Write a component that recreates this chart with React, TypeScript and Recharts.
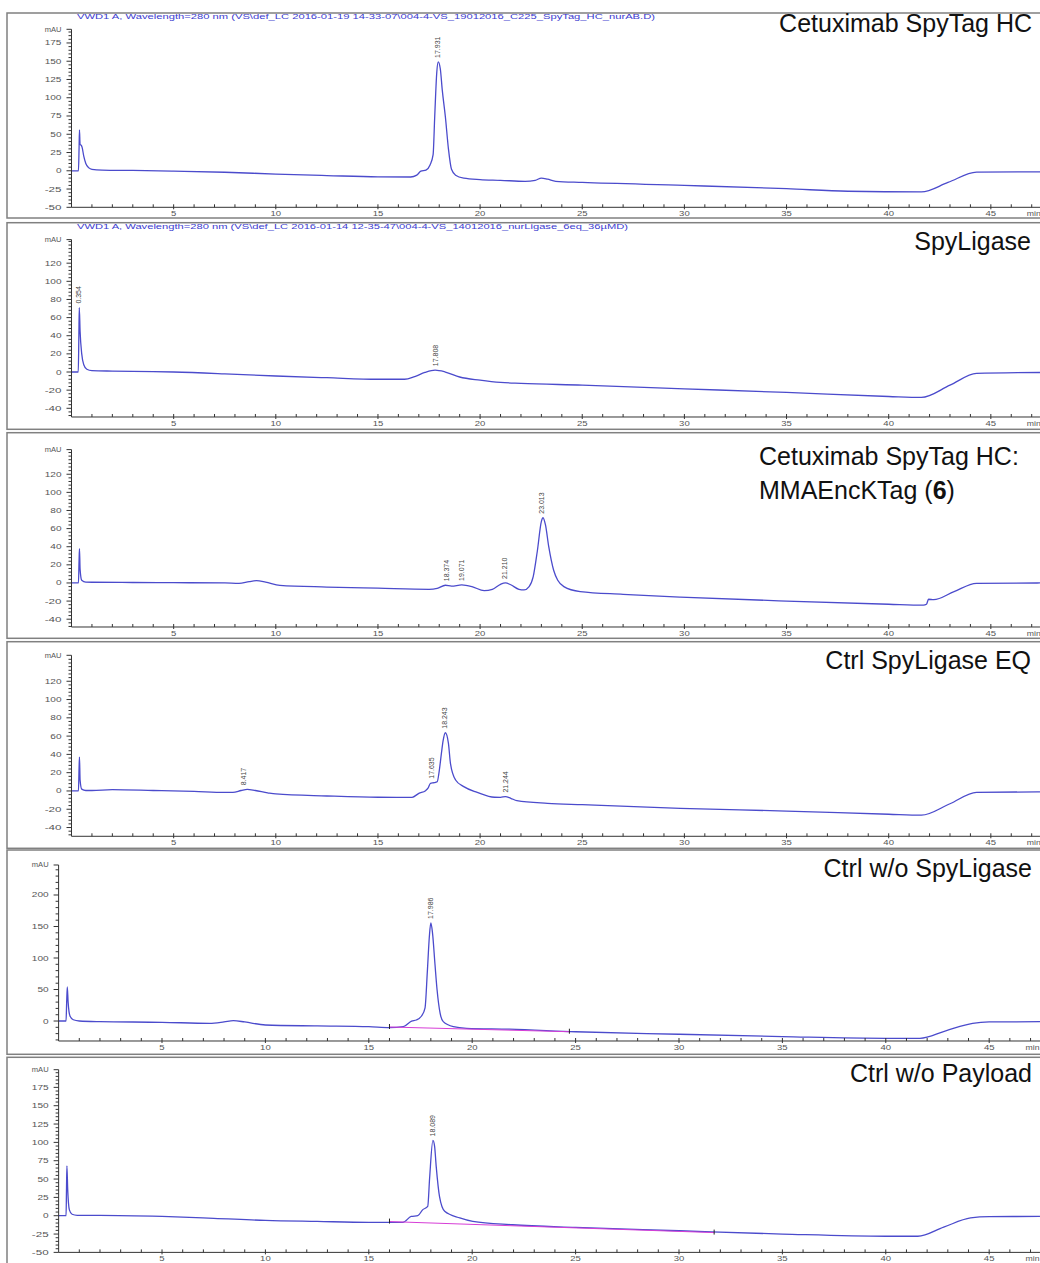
import React from 'react'
import { LineChart, Line, XAxis, YAxis, ReferenceDot } from 'recharts'

type Pt = [number, number]

// retention time (min), absorbance (mAU)
const spyTagHC: Pt[] = [
  [0, 0], [0.34, 0], [0.37, 30], [0.39, 56], [0.42, 36], [0.47, 35], [0.52, 32], [0.6, 20], [0.7, 10],
  [0.85, 4], [1.0, 2], [1.5, 1], [3, 0.5], [5, -0.5], [7.5, -2], [10, -4.5], [12.5, -6.5], [15, -8.3],
  [16.6, -8.5], [16.9, -6], [17.1, -0.5], [17.35, 1], [17.55, 8], [17.7, 22], [17.78, 75], [17.88, 135],
  [17.95, 149], [18.05, 140], [18.15, 110], [18.3, 74], [18.45, 30], [18.6, 2], [18.8, -6], [19.2, -10],
  [20, -12], [21, -13], [22.2, -14.5], [22.7, -13], [23.0, -10], [23.3, -11.5], [23.7, -14.5], [25, -16],
  [30, -20], [35, -24.5], [38, -28], [41.6, -29], [42.9, -16], [44.3, -1.8], [47.5, -1.5],
]
const spyLigase: Pt[] = [
  [0, 0], [0.33, 0], [0.36, 40], [0.38, 71], [0.42, 45], [0.5, 20], [0.6, 8], [0.75, 3], [1, 1.5], [2, 1],
  [4, 0.5], [5, 0], [7.5, -2], [10, -4.4], [12.5, -6.3], [15, -8], [16.3, -8], [16.8, -5], [17.3, -0.5],
  [17.8, 2], [18.3, 0], [19, -5.5], [20, -9], [21, -11.5], [22, -12.5], [25, -14.5], [30, -18.5],
  [35, -22.5], [40, -27], [41.6, -28], [43, -14.5], [44.3, -1.5], [47.5, -0.5],
]
const conjugate: Pt[] = [
  [0, 0], [0.34, 0], [0.37, 25], [0.39, 38], [0.42, 15], [0.5, 3], [0.7, 1], [1, 0.8], [3, 0.5], [5, 0.3],
  [7.5, 0], [8.2, -0.5], [8.7, 1.5], [9.05, 2.5], [9.5, 1], [10.2, -2.6], [12.5, -4.5], [15, -5.8],
  [17.5, -7], [17.9, -6], [18.3, -2.5], [18.6, -3.5], [19.1, -2.2], [19.6, -4], [20.2, -8.5], [20.6, -7],
  [21.0, -1.5], [21.24, 0], [21.5, -2], [21.9, -7], [22.15, -7.7], [22.4, -4], [22.6, 7], [22.8, 35],
  [23.0, 68], [23.08, 72], [23.2, 64], [23.36, 40], [23.6, 14], [23.8, 3], [24.1, -4], [24.9, -9.5],
  [27, -12.5], [29.8, -15.6], [35, -20], [40, -23.5], [41.7, -24.5], [41.85, -23.5], [41.95, -18],
  [42.2, -18.5], [43.2, -9.5], [44.3, -0.5], [47.5, 0],
]
const ctrlEQ: Pt[] = [
  [0, 0], [0.34, 0], [0.37, 25], [0.39, 37], [0.42, 12], [0.5, 2], [0.7, 0.5], [1, 0.5], [2, 1.4], [4, 0.5],
  [6, -0.5], [7.5, -1.5], [7.9, -1.5], [8.3, 0.5], [8.6, 1.8], [9.0, 0.5], [9.6, -2], [10, -3.3],
  [12.5, -5.5], [15, -6.9], [16.67, -7], [17.0, -2.6], [17.33, 0.3], [17.45, 3], [17.57, 8.4], [17.75, 9],
  [17.9, 10], [18.0, 22], [18.1, 40], [18.19, 55], [18.3, 63.7], [18.45, 52], [18.55, 30], [18.8, 12],
  [19.2, 4.7], [19.86, -1.5], [20.7, -6.9], [21.0, -7], [21.24, -6.2], [21.5, -8], [21.8, -10.6],
  [23.3, -13.5], [25, -15], [29.8, -19], [35, -22], [40, -25.5], [41.6, -26.5], [43, -14], [44.3, -1.5], [47.5, -1],
]
const ctrlNoLigase: Pt[] = [
  [0, 0], [0.36, 0], [0.39, 30], [0.42, 54], [0.46, 30], [0.55, 8], [0.71, 2], [1, 0], [2, -1], [5, -2],
  [7.3, -3.7], [8.0, -1.5], [8.45, 0.5], [9, -1.5], [10, -6.3], [12.5, -7.8], [15, -9], [16, -10.5],
  [16.67, -9], [17.07, 0], [17.3, 1.6], [17.55, 8], [17.72, 21], [17.83, 78], [17.93, 135], [18.0, 155.7],
  [18.08, 140], [18.2, 90], [18.3, 50], [18.45, 12], [18.6, -1], [19.09, -9], [19.73, -11.6], [21.8, -13],
  [25, -17], [30, -21], [35, -24.7], [40, -27.4], [41.65, -27.4], [42.9, -15.5], [44.2, -3.7], [45, -1.5], [47.5, -1],
]
const ctrlNoPayload: Pt[] = [
  [0, 0], [0.36, 0], [0.38, 35], [0.4, 68], [0.44, 35], [0.52, 8], [0.65, 2], [0.9, 0.5], [2, 0.5], [5, -1],
  [7.5, -3.5], [10, -6.4], [12.5, -7.8], [15, -9], [16.65, -9], [17.05, -1], [17.37, 0], [17.6, 8],
  [17.85, 12.7], [17.94, 51], [18.1, 102.7], [18.18, 95], [18.26, 67], [18.42, 26], [18.67, 6],
  [19.4, -3], [20.03, -7.7], [21.95, -12.3], [25, -16], [30, -20.5], [35, -25], [40, -28], [41.55, -28],
  [42.8, -15.5], [44.1, -3], [45, -1.2], [47.5, -1],
]

// integration baselines (magenta)
const noLigaseBaseline: Pt[] = [[16.0, -9.5], [24.7, -17]]
const noPayloadBaseline: Pt[] = [[16.0, -8], [31.7, -23]]

// labelled peaks: retention time, height where the label sits
const spyTagHCPeaks: Pt[] = [[17.931, 149]]
const spyLigasePeaks: Pt[] = [[0.354, 71], [17.808, 2]]
const conjugatePeaks: Pt[] = [[18.374, -2.5], [19.071, -2.2], [21.21, 0], [23.013, 72]]
const ctrlEQPeaks: Pt[] = [[8.417, 1.8], [17.635, 9], [18.243, 63.7], [21.244, -6.2]]
const noLigasePeaks: Pt[] = [[17.986, 155.7]]
const noPayloadPeaks: Pt[] = [[18.089, 102.7]]

const xLabels = [5, 10, 15, 20, 25, 30, 35, 40, 45]
const yLabels25 = [-50, -25, 0, 25, 50, 75, 100, 125, 150, 175]
const yLabels20 = [-40, -20, 0, 20, 40, 60, 80, 100, 120]
const yLabels50 = [0, 50, 100, 150, 200]

const header1 = 'VWD1 A, Wavelength=280 nm (VS\\def_LC 2016-01-19 14-33-07\\004-4-VS_19012016_C225_SpyTag_HC_nurAB.D)'
const header2 = 'VWD1 A, Wavelength=280 nm (VS\\def_LC 2016-01-14 12-35-47\\004-4-VS_14012016_nurLigase_6eq_36µMD)'

const MIN_POS = 47.1
const LINE = '#4b4bcc'
const AXIS = '#333'
const TXT = '#555'
const FONT = '"Liberation Sans", Arial, sans-serif'

interface PanelCfg {
  top: number
  bottom: number
  axisX: number
  plotTop: number
  axisY: number
  yDomain: [number, number]
  pxPerMin: number
  labels: number[]
  minorStep: number
  trace: Pt[]
  peaks: Pt[]
  baseline?: Pt[]
}

const panels: PanelCfg[] = [
  { top: 13, bottom: 218, axisX: 71.5, plotTop: 29.3, axisY: 207.3, yDomain: [-50, 193.7], pxPerMin: 20.43, labels: yLabels25, minorStep: 5, trace: spyTagHC, peaks: spyTagHCPeaks },
  { top: 222.7, bottom: 429.3, axisX: 71.5, plotTop: 239.3, axisY: 416.7, yDomain: [-49.6, 146], pxPerMin: 20.43, labels: yLabels20, minorStep: 4, trace: spyLigase, peaks: spyLigasePeaks },
  { top: 432.7, bottom: 638.3, axisX: 71.5, plotTop: 449.3, axisY: 626.7, yDomain: [-48.6, 147.2], pxPerMin: 20.43, labels: yLabels20, minorStep: 4, trace: conjugate, peaks: conjugatePeaks },
  { top: 641.7, bottom: 848.3, axisX: 71.5, plotTop: 655, axisY: 836, yDomain: [-49.6, 148.4], pxPerMin: 20.43, labels: yLabels20, minorStep: 4, trace: ctrlEQ, peaks: ctrlEQPeaks },
  { top: 850, bottom: 1054.3, axisX: 58.6, plotTop: 865, axisY: 1041, yDomain: [-31.7, 247.6], pxPerMin: 20.68, labels: yLabels50, minorStep: 10, trace: ctrlNoLigase, peaks: noLigasePeaks, baseline: noLigaseBaseline },
  { top: 1057.3, bottom: 1268, axisX: 58.6, plotTop: 1070, axisY: 1252.7, yDomain: [-50, 199.1], pxPerMin: 20.68, labels: yLabels25, minorStep: 5, trace: ctrlNoPayload, peaks: noPayloadPeaks, baseline: noPayloadBaseline },
]

const Panel = ({ cfg }: { cfg: PanelCfg }) => {
  const { top, bottom, axisX, plotTop, axisY, yDomain, pxPerMin, labels, minorStep, trace, peaks, baseline } = cfg
  const xMax = (1040 - axisX) / pxPerMin
  const yTicks: number[] = []
  for (let v = Math.ceil(yDomain[0] / minorStep) * minorStep; v < yDomain[1] - 1; v += minorStep) yTicks.push(v)
  yTicks.push(yDomain[1])
  const xTicks: number[] = []
  for (let m = 1; m <= 47; m++) xTicks.push(m)
  xTicks.push(MIN_POS)
  const data = trace.map(([t, v]) => ({ t, v }))
  const baseData = baseline?.map(([t, v]) => ({ t, v }))

  const yTick = (p: any) => {
    const v = p.payload.value
    const isTop = v === yDomain[1]
    const isMajor = labels.includes(v)
    const len = isTop || isMajor ? 5 : 3
    const text = isTop ? 'mAU' : isMajor ? String(v) : null
    return (
      <g>
        <line x1={p.x - len} x2={p.x} y1={p.y} y2={p.y} stroke={AXIS} strokeWidth={1} />
        {text && (
          <text x={p.x - 10} y={p.y + 2.5} textAnchor="end" fontSize={7} fill={TXT} fontFamily={FONT}
            textLength={text.length * 5.6} lengthAdjust="spacingAndGlyphs">{text}</text>
        )}
      </g>
    )
  }

  const xTick = (p: any) => {
    const v = p.payload.value
    if (v === MIN_POS) {
      return <text x={p.x} y={p.y + 9} textAnchor="middle" fontSize={7} fill={TXT} fontFamily={FONT}
        textLength={14} lengthAdjust="spacingAndGlyphs">min</text>
    }
    const isMajor = xLabels.includes(v)
    const s = String(v)
    return (
      <g>
        <line x1={p.x} x2={p.x} y1={p.y - 3} y2={p.y + (isMajor ? 2 : 0)} stroke={AXIS} strokeWidth={1} />
        {isMajor && (
          <text x={p.x} y={p.y + 9} textAnchor="middle" fontSize={7} fill={TXT} fontFamily={FONT}
            textLength={s.length * 5.3} lengthAdjust="spacingAndGlyphs">{s}</text>
        )}
      </g>
    )
  }

  return (
    <div style={{ position: 'absolute', left: 0, top }}>
      <LineChart width={1040} height={bottom - top} margin={{ top: plotTop - top, right: 0, bottom: 0, left: 0 }}>
        <XAxis type="number" dataKey="t" domain={[0, xMax]} ticks={xTicks} interval={0} allowDataOverflow
          height={bottom - axisY} tickSize={0} tickMargin={0} stroke={AXIS} tick={xTick} />
        <YAxis type="number" domain={yDomain} ticks={yTicks} interval={0} allowDataOverflow
          width={axisX} tickSize={0} tickMargin={0} stroke={AXIS} tick={yTick} />
        <Line data={data} dataKey="v" type="monotone" stroke={LINE} strokeWidth={1.3} dot={false} isAnimationActive={false} />
        {baseData && (
          <Line data={baseData} dataKey="v" type="linear" stroke="#d63cd6" strokeWidth={1} dot={false} isAnimationActive={false} />
        )}
        {baseline?.map(([t, v], i) => (
          <ReferenceDot key={'b' + i} x={t} y={v} r={0} ifOverflow="visible"
            shape={(s: any) => <line x1={s.cx} x2={s.cx} y1={s.cy - 3} y2={s.cy + 2} stroke="#222" strokeWidth={1} />} />
        ))}
        {peaks.map(([t, h], i) => (
          <ReferenceDot key={'p' + i} x={t} y={h} r={0} ifOverflow="visible"
            shape={(s: any) => (
              <text transform={`translate(${s.cx + 2.5},${s.cy - 4}) rotate(-90)`} fontSize={7} fill="#444"
                fontFamily={FONT}>{t.toFixed(3)}</text>
            )} />
        ))}
      </LineChart>
    </div>
  )
}

const Overlay = () => (
  <svg width={1040} height={1263} style={{ position: 'absolute', left: 0, top: 0, pointerEvents: 'none' }}>
    {panels.map((p, i) => (
      <rect key={i} x={7} y={p.top} width={1045} height={p.bottom - p.top} fill="none" stroke="#808080" strokeWidth={1.5} />
    ))}
    <text x={77} y={19} fontSize={7} fill="#3c3cd0" fontFamily={FONT} textLength={578} lengthAdjust="spacingAndGlyphs">{header1}</text>
    <text x={77} y={229} fontSize={7} fill="#3c3cd0" fontFamily={FONT} textLength={header2.length * 5.8} lengthAdjust="spacingAndGlyphs">{header2}</text>
    <g fontFamily={FONT} fontSize={25} fill="#111">
      <text x={1032} y={32} textAnchor="end">Cetuximab SpyTag HC</text>
      <text x={1031} y={250} textAnchor="end">SpyLigase</text>
      <text x={759} y={465}>Cetuximab SpyTag HC:</text>
      <text x={759} y={499}>MMAEncKTag (<tspan fontWeight="bold">6</tspan>)</text>
      <text x={1031} y={669} textAnchor="end">Ctrl SpyLigase EQ</text>
      <text x={1032} y={877} textAnchor="end">Ctrl w/o SpyLigase</text>
      <text x={1032} y={1082} textAnchor="end">Ctrl w/o Payload</text>
    </g>
  </svg>
)

export default function App() {
  return (
    <div style={{ position: 'absolute', left: 0, top: 0, width: 1040, height: 1263, overflow: 'hidden', background: '#fff' }}>
      {panels.map((p, i) => <Panel key={i} cfg={p} />)}
      <Overlay />
    </div>
  )
}
